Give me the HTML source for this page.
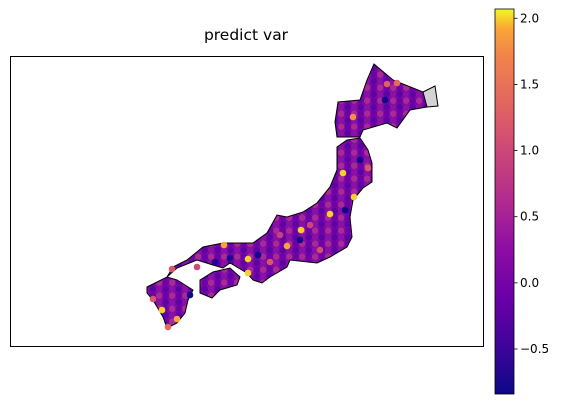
<!DOCTYPE html>
<html><head><meta charset="utf-8">
<style>
html,body{margin:0;padding:0;background:#fff;width:566px;height:404px;overflow:hidden}
svg{display:block;font-family:"DejaVu Sans","Liberation Sans",sans-serif}
</style></head>
<body>
<svg id="chart" width="566" height="404" viewBox="0 0 566 404">
<defs>
<linearGradient id="plasma" x1="0" y1="1" x2="0" y2="0">
<stop offset="0" stop-color="#0d0887"/><stop offset="0.13" stop-color="#41049d"/>
<stop offset="0.25" stop-color="#6a00a8"/><stop offset="0.38" stop-color="#8f0da4"/>
<stop offset="0.5" stop-color="#b12a90"/><stop offset="0.63" stop-color="#cc4778"/>
<stop offset="0.75" stop-color="#e16462"/><stop offset="0.88" stop-color="#f2844b"/>
<stop offset="0.95" stop-color="#fca636"/><stop offset="1" stop-color="#f0f921"/>
</linearGradient>
<pattern id="dots" width="13" height="13" patternUnits="userSpaceOnUse">
<rect width="13" height="13" fill="#7a0ca6"/>
<circle cx="3.2" cy="3.2" r="3.3" fill="#8b10a5"/>
<circle cx="9.7" cy="3.2" r="3.3" fill="#5d02a3"/>
<circle cx="3.2" cy="9.7" r="3.3" fill="#a82a94"/>
<circle cx="9.7" cy="9.7" r="3.3" fill="#6f00a8"/>
</pattern>
</defs>
<text x="246" y="40" font-size="15.5" text-anchor="middle" fill="#000">predict var</text>
<rect x="10.5" y="56.5" width="473" height="290" fill="none" stroke="#000" stroke-width="1"/>
<g id="land">
<polygon points="423,92 435,86 438,106 427,107 420,100" fill="#d3d3d3" stroke="#000" stroke-width="1"/>
<polygon fill="url(#dots)" stroke="#000" stroke-width="1" points="374,64 393,80 423,92 427,107 410,110 397,128 387,123 363,130 360,137 337,137 335,122 338,102 360,100 367,80"/>
<polygon fill="url(#dots)" stroke="#000" stroke-width="1" points="360,138 368,150 372,163 372,182 363,188 353,200 350,217 352,237 347,247 330,257 317,263 290,260 287,267 270,277 262,283 253,280 247,273 230,263 223,268 213,265 197,260 177,268 167,277 173,267 187,260 203,247 223,243 253,243 267,233 277,215 287,217 303,212 317,203 330,187 337,170 337,147 347,140"/>
<polygon fill="url(#dots)" stroke="#000" stroke-width="1" points="200,280 213,272 230,268 240,277 237,285 220,290 212,298 200,293"/>
<polygon fill="url(#dots)" stroke="#000" stroke-width="1" points="147,287 167,277 177,280 193,290 188,300 185,313 177,323 167,328 163,317 153,300 147,293"/>
</g>
<g id="pts"></g>
<rect x="495" y="9" width="19" height="385" fill="url(#plasma)" stroke="#000" stroke-width="0.8"/>
<g id="cticks"></g>
</svg>
<script>
const ptX = [343,354,330,301,287,248,248,224,162,177,353,387,397,368,153,168,270,172,197,320,300,345,258,215,360,385,310,280,230,190];
const ptY = [173,197,214,230,246,259,273,245,310,319,117,84,83,168,299,327,262,269,267,250,240,210,255,262,160,100,225,235,258,295];
const ptV = [2.0,2.0,2.0,2.0,1.9,2.0,2.0,1.9,2.0,1.9,1.8,1.3,1.4,1.2,1.2,1.4,1.2,1.2,1.0,1.1,-0.8,-0.8,-0.8,-0.7,-0.8,-0.8,1.0,0.9,-0.7,-0.8];
const tickVals = [2.0,1.5,1.0,0.5,0.0,-0.5];
const tickLabels = ["2.0","1.5","1.0","0.5","0.0","\u22120.5"];
const vMin=-0.84, vMax=2.07, cbTop=9, cbBot=394;
function cy(v){return cbBot-(v-vMin)/(vMax-vMin)*(cbBot-cbTop);}
const stops=[[0,"#0d0887"],[0.13,"#41049d"],[0.25,"#6a00a8"],[0.38,"#8f0da4"],[0.5,"#b12a90"],[0.63,"#cc4778"],[0.75,"#e16462"],[0.88,"#f2844b"],[0.95,"#fca636"],[1,"#f0f921"]];
function hx(h){return [1,3,5].map(i=>parseInt(h.substr(i,2),16));}
function color(v){let t=Math.max(0,Math.min(1,(v-vMin)/(vMax-vMin)));
 for(let i=1;i<stops.length;i++){if(t<=stops[i][0]){const a=hx(stops[i-1][1]),b=hx(stops[i][1]);const f=(t-stops[i-1][0])/(stops[i][0]-stops[i-1][0]);return "rgb("+a.map((x,k)=>Math.round(x+(b[k]-x)*f)).join(",")+")";}}
 return stops[stops.length-1][1];}
const NS="http://www.w3.org/2000/svg";
const pg=document.getElementById("pts");
for(let i=0;i<ptX.length;i++){
 const c=document.createElementNS(NS,"circle");
 c.setAttribute("cx",ptX[i]);c.setAttribute("cy",ptY[i]);c.setAttribute("r",3.3);
 c.setAttribute("fill",color(ptV[i]));
 
 
 pg.appendChild(c);
}
const tg=document.getElementById("cticks");
for(let i=0;i<tickVals.length;i++){
 const y=cy(tickVals[i]);
 const l=document.createElementNS(NS,"line");
 l.setAttribute("x1",514);l.setAttribute("x2",517.5);l.setAttribute("y1",y);l.setAttribute("y2",y);
 l.setAttribute("stroke","#000");l.setAttribute("stroke-width","0.8");
 
 
 tg.appendChild(l);
 const t=document.createElementNS(NS,"text");
 t.setAttribute("x",520);t.setAttribute("y",y+4);t.setAttribute("font-size","12");
 t.textContent=tickLabels[i];
 
 
 tg.appendChild(t);
}
</script>
</body></html>
